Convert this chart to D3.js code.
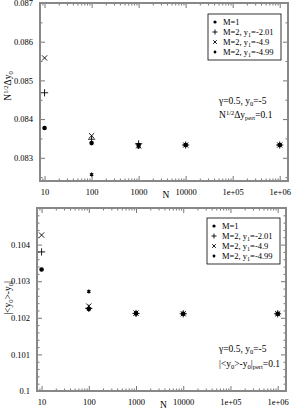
<!DOCTYPE html>
<meta charset="utf-8">
<style>
body { margin: 0; background: #fff; }
svg { font-family: "Liberation Serif", "DejaVu Serif", serif; }
.frame { fill: none; stroke: #888; stroke-width: 2px; }
.axis path { display: none; }
.axis line { stroke: #777; }
.axis text { font-size: 8.5px; fill: #000; font-family: "Liberation Serif", serif; }
.lab { font-size: 9.5px; fill: #000; }
</style>
<svg width="294" height="409"></svg>
<script src="https://cdnjs.cloudflare.com/ajax/libs/d3/7.8.5/d3.min.js"></script>
<script>
var Nvals = [10, 100, 1000, 10000, 1000000];
var xTicks = [10, 100, 1000, 10000, 100000, 1000000];
var xTickLabels = ["10", "100", "1000", "10000", "1e+05", "1e+06"];
var seriesNames = ["M=1", "M=2, y1=-2.01", "M=2, y1=-4.9", "M=2, y1=-4.99"];
var seriesSym = ["dot", "plus", "cross", "star"];

// top panel: N^(1/2) dy0
var topM1    = [0.08377, 0.08338, 0.08333, 0.08333, 0.08333];
var topPlus  = [0.08468, 0.08348, 0.08336, 0.08333, 0.08333];
var topCross = [0.08558, 0.08357, 0.08331, 0.08333, 0.08333];
var topStar  = [null,    0.08257, 0.08328, 0.08333, 0.08333];
var topYTicks = [0.083, 0.084, 0.085, 0.086, 0.087];

// bottom panel: |<y0>-y0|
var botM1    = [0.10332, 0.10224, 0.10212, 0.10211, 0.10211];
var botPlus  = [0.10380, 0.10226, 0.10212, 0.10211, 0.10211];
var botCross = [0.10426, 0.10232, 0.10213, 0.10211, 0.10211];
var botStar  = [null,    0.10272, 0.10211, 0.10211, 0.10211];
var botYTicks = [0.1, 0.101, 0.102, 0.103, 0.104];

var svg = d3.select("svg");
var xMinor = [];
for (var e = 0; e <= 6; e++) for (var k = 2; k <= 9; k++) {
  var v = k * Math.pow(10, e);
  if (v > 8 && v < 1.5e6 && xTicks.indexOf(v) < 0) xMinor.push(v);
}

function symbol(g, type, x, y, s) {
  if (type == "dot") {
    g.append("circle").attr("cx", x).attr("cy", y).attr("r", 2.3 * s).attr("fill", "#000");
  } else if (type == "plus") {
    var r = 3.6 * s;
    g.append("path").attr("d", "M" + (x - r) + "," + y + "H" + (x + r) + "M" + x + "," + (y - r) + "V" + (y + r))
      .attr("stroke", "#000").attr("stroke-width", 0.9).attr("fill", "none");
  } else if (type == "cross") {
    var r = 2.6 * s;
    g.append("path").attr("d", "M" + (x - r) + "," + (y - r) + "L" + (x + r) + "," + (y + r) + "M" + (x - r) + "," + (y + r) + "L" + (x + r) + "," + (y - r))
      .attr("stroke", "#000").attr("stroke-width", 0.9).attr("fill", "none");
  } else {
    var r = 2.0 * s, d = "";
    for (var a = 0; a < 3; a++) {
      var ang = a * Math.PI / 3 + Math.PI / 2;
      d += "M" + (x - r * Math.cos(ang)) + "," + (y - r * Math.sin(ang)) + "L" + (x + r * Math.cos(ang)) + "," + (y + r * Math.sin(ang));
    }
    g.append("path").attr("d", d).attr("stroke", "#000").attr("stroke-width", 1.1).attr("fill", "none");
    g.append("circle").attr("cx", x).attr("cy", y).attr("r", 1.1 * s).attr("fill", "#000");
  }
}

function panel(opt) {
  var x = d3.scaleLog().domain([8, 1.5e6]).range([opt.left, opt.right]);
  var y = d3.scaleLinear().domain(opt.ydom).range([opt.bottom, opt.top]);
  var g = svg.append("g");
  var w = opt.right - opt.left, h = opt.bottom - opt.top;

  g.append("g").attr("class", "axis").attr("transform", "translate(0," + opt.bottom + ")")
    .call(d3.axisBottom(x).tickValues(xTicks).tickSize(-5).tickPadding(8)
      .tickFormat(function(d, i) { return xTickLabels[i]; }));
  g.append("g").attr("class", "axis").attr("transform", "translate(0," + opt.bottom + ")")
    .call(d3.axisBottom(x).tickValues(xMinor).tickSize(-2.5).tickFormat(""));
  g.append("g").attr("class", "axis").attr("transform", "translate(0," + opt.top + ")")
    .call(d3.axisTop(x).tickValues(xTicks).tickSize(-5).tickFormat(""));
  g.append("g").attr("class", "axis").attr("transform", "translate(0," + opt.top + ")")
    .call(d3.axisTop(x).tickValues(xMinor).tickSize(-2.5).tickFormat(""));

  g.append("g").attr("class", "axis").attr("transform", "translate(" + opt.left + ",0)")
    .call(d3.axisLeft(y).tickValues(opt.yticks).tickSize(-5).tickPadding(7).tickFormat(opt.yfmt));
  g.append("g").attr("class", "axis").attr("transform", "translate(" + opt.left + ",0)")
    .call(d3.axisLeft(y).tickValues(opt.yminor).tickSize(-2.5).tickFormat(""));
  g.append("g").attr("class", "axis").attr("transform", "translate(" + opt.right + ",0)")
    .call(d3.axisRight(y).tickValues(opt.yticks).tickSize(-5).tickFormat(""));
  g.append("g").attr("class", "axis").attr("transform", "translate(" + opt.right + ",0)")
    .call(d3.axisRight(y).tickValues(opt.yminor).tickSize(-2.5).tickFormat(""));

  g.append("rect").attr("class", "frame").attr("x", opt.left).attr("y", opt.top)
    .attr("width", w).attr("height", h);

  var pts = g.append("g");
  opt.series.forEach(function(vals, si) {
    vals.forEach(function(v, i) {
      if (v == null) return;
      symbol(pts, seriesSym[si], x(Nvals[i]), y(v), 1);
    });
  });

  // legend
  var lg = g.append("g");
  lg.append("rect").attr("x", opt.leg[0]).attr("y", opt.leg[1]).attr("width", 73).attr("height", 46)
    .attr("fill", "#fff").attr("stroke", "#000").attr("stroke-width", 0.8);
  seriesNames.forEach(function(nm, i) {
    var yy = opt.leg[1] + 8 + i * 10;
    symbol(lg, seriesSym[i], opt.leg[0] + 7, yy, 0.7);
    var t = lg.append("text").attr("class", "lab").attr("x", opt.leg[0] + 15).attr("y", yy + 3)
      .style("font-size", "8.5px");
    if (i == 0) { t.text(nm); return; }
    var parts = nm.split("y1");
    t.append("tspan").text(parts[0] + "y");
    t.append("tspan").attr("dy", 2).style("font-size", "6px").text("1");
    t.append("tspan").attr("dy", -2).text(parts[1]);
  });

  // axis titles
  g.append("text").attr("class", "lab").attr("x", (opt.left + opt.right) / 2 + 2).attr("y", opt.bottom + 17)
    .attr("text-anchor", "middle").text("N");
  return g;
}

var gt = panel({
  left: 40, right: 288, top: 3, bottom: 181,
  ydom: [0.0824, 0.087], yticks: topYTicks,
  yminor: [0.0825, 0.0835, 0.0845, 0.0855, 0.0865],
  yfmt: d3.format(".3f"),
  series: [topM1, topPlus, topCross, topStar],
  leg: [208, 14]
});
var gb = panel({
  left: 37, right: 286, top: 208, bottom: 391,
  ydom: [0.1, 0.105], yticks: botYTicks,
  yminor: d3.range(0, 25).map(function(i) { return 0.1 + i * 0.0002; }).filter(function(v) { return Math.abs(v * 1000 - Math.round(v * 1000)) > 1e-6; }),
  yfmt: function(d) { return d == 0.1 ? "0.1" : d3.format(".3f")(d); },
  series: [botM1, botPlus, botCross, botStar],
  leg: [207, 218]
});

// y titles
var t1 = svg.append("text").attr("class", "lab").attr("transform", "translate(11,86) rotate(-90)")
  .attr("text-anchor", "middle");
t1.append("tspan").text("N");
t1.append("tspan").attr("dy", -3).style("font-size", "6.5px").text("1/2");
t1.append("tspan").attr("dy", 3).text("Δy");
t1.append("tspan").attr("dy", 2).style("font-size", "6.5px").text("0");

var t2 = svg.append("text").attr("class", "lab").attr("transform", "translate(11,298) rotate(-90)")
  .attr("text-anchor", "middle");
t2.append("tspan").text("|<y");
t2.append("tspan").attr("dy", 2).style("font-size", "6.5px").text("0");
t2.append("tspan").attr("dy", -2).text(">-y");
t2.append("tspan").attr("dy", 2).style("font-size", "6.5px").text("0");
t2.append("tspan").attr("dy", -2).text("|");

// annotations
var a1 = svg.append("text").attr("class", "lab").attr("x", 219).attr("y", 104);
a1.append("tspan").text("γ=0.5, y");
a1.append("tspan").attr("dy", 2).style("font-size", "6.5px").text("0");
a1.append("tspan").attr("dy", -2).text("=-5");
var a2 = svg.append("text").attr("class", "lab").attr("x", 219).attr("y", 118);
a2.append("tspan").text("N");
a2.append("tspan").attr("dy", -3).style("font-size", "6.5px").text("1/2");
a2.append("tspan").attr("dy", 3).text("Δy");
a2.append("tspan").attr("dy", 2).style("font-size", "6.5px").text("pert");
a2.append("tspan").attr("dy", -2).text("=0.1");

var b1 = svg.append("text").attr("class", "lab").attr("x", 219).attr("y", 352);
b1.append("tspan").text("γ=0.5, y");
b1.append("tspan").attr("dy", 2).style("font-size", "6.5px").text("0");
b1.append("tspan").attr("dy", -2).text("=-5");
var b2 = svg.append("text").attr("class", "lab").attr("x", 219).attr("y", 367);
b2.append("tspan").text("|<y");
b2.append("tspan").attr("dy", 2).style("font-size", "6.5px").text("0");
b2.append("tspan").attr("dy", -2).text(">-y");
b2.append("tspan").attr("dy", 2).style("font-size", "6.5px").text("0");
b2.append("tspan").attr("dy", -2).text("|");
b2.append("tspan").attr("dy", 2).style("font-size", "6.5px").text("pert");
b2.append("tspan").attr("dy", -2).text("=0.1");
</script>
